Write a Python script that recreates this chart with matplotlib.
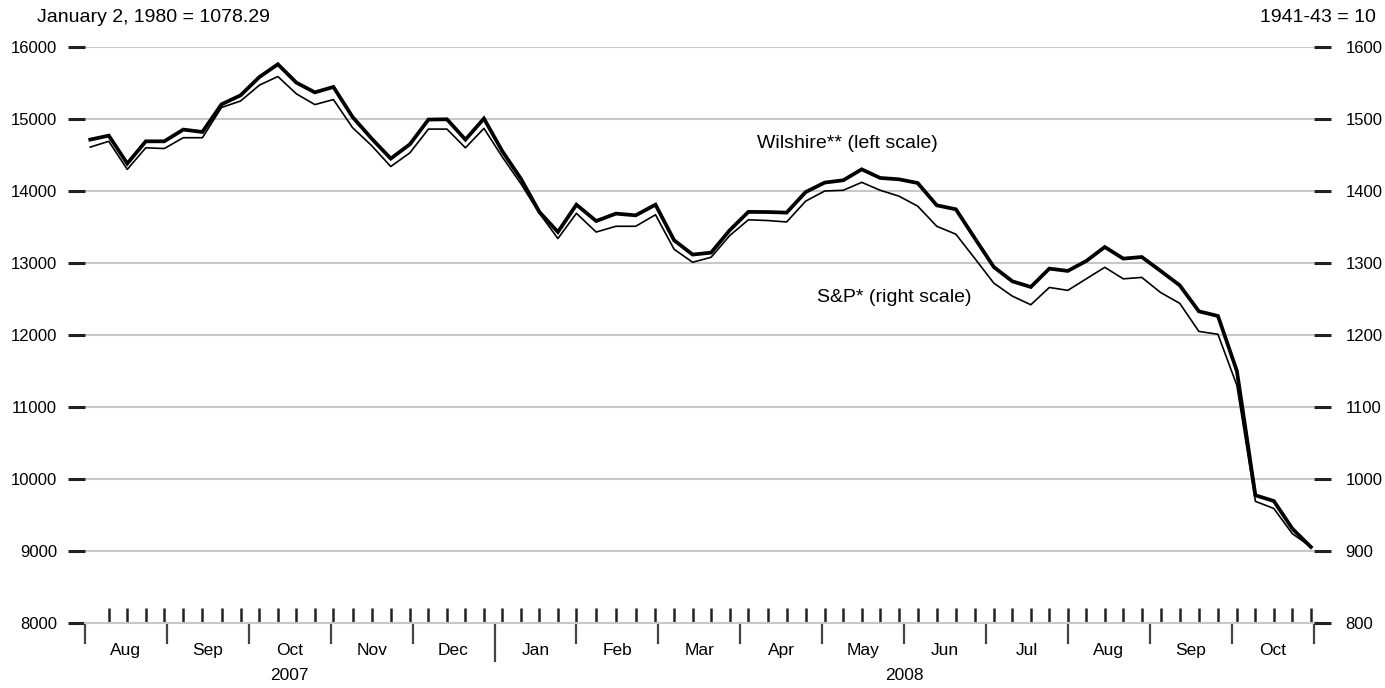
import pandas as pd
import matplotlib.pyplot as plt
import matplotlib.transforms as mtransforms

plt.rcParams['font.family'] = ['Liberation Sans', 'DejaVu Sans']

# weekly (Friday) readings
dates = pd.date_range('2007-08-03', '2008-10-31', freq='W-FRI')
wilshire = [14714, 14769, 14381, 14690, 14690,
            14853, 14820, 15204, 15329,
            15583, 15760, 15505, 15370,
            15445, 15028, 14728, 14450, 14649,
            14992, 14996, 14714, 15006,
            14550, 14170, 13708, 13431,
            13810, 13583, 13686, 13662, 13810,
            13315, 13117, 13144, 13454,
            13710, 13708, 13700, 13986,
            14117, 14149, 14301, 14181, 14163,
            14111, 13801, 13746, 13340,
            12944, 12746, 12667, 12922,
            12890, 13028, 13222, 13061, 13083,
            12890, 12690, 12329, 12264,
            11500, 9774, 9694, 9310, 9056]
sp500 = [1461, 1469, 1430, 1460, 1459,
         1474, 1474, 1516, 1525,
         1547, 1559, 1535, 1520,
         1527, 1488, 1463, 1434, 1453,
         1486, 1486, 1460, 1487,
         1447, 1410, 1369, 1334,
         1369, 1343, 1351, 1351, 1367,
         1319, 1301, 1308, 1338,
         1360, 1359, 1357, 1386,
         1400, 1401, 1412, 1401, 1393,
         1379, 1351, 1340, 1306,
         1272, 1254, 1242, 1266,
         1262, 1278, 1294, 1278, 1280,
         1259, 1244, 1205, 1201,
         1130, 969, 959, 924, 906]
months = ['Aug', 'Sep', 'Oct', 'Nov', 'Dec', 'Jan', 'Feb', 'Mar', 'Apr',
          'May', 'Jun', 'Jul', 'Aug', 'Sep', 'Oct']
years = ['2007', '2008']


# each month gets the same width, days spread inside it
def month_pos(d):
    m = (d.year - 2007) * 12 + d.month - 8
    return m + (d.day - 1) / d.days_in_month


x = [month_pos(d) for d in dates]

fig = plt.figure(figsize=(13.85, 6.88), dpi=100)
ax = fig.add_axes([85 / 1385, 65 / 688, 1228.5 / 1385, 576 / 688])
ax2 = ax.twinx()

ax.plot(x, wilshire, color='black', lw=2.7, solid_joinstyle='miter', zorder=3)
ax2.plot(x, sp500, color='black', lw=1.2, zorder=3)

ax.set_xlim(0, 15)
ax.set_ylim(8000, 16000)
ax2.set_ylim(800, 1600)
ax.set_yticks(range(9000, 16001, 1000))
ax.set_yticks([8000], minor=True)
ax2.set_yticks(range(800, 1601, 100))
ax.yaxis.grid(True, which='major', color='#c8c8c8', lw=1.5)
ax.set_axisbelow(True)

for a in (ax, ax2):
    for s in a.spines.values():
        s.set_visible(False)
ax.tick_params(axis='y', which='both', length=12, width=2.2, pad=8, labelsize=12,
               color='#222222')
ax.set_yticklabels(['8000'], minor=True)
ax2.tick_params(axis='y', length=12, width=2.2, pad=11, labelsize=12, color='#222222')

# x axis: gray base line, month boundaries down, weekly ticks up
ax.spines['bottom'].set_visible(True)
ax.spines['bottom'].set_color('#c8c8c8')
ax.spines['bottom'].set_linewidth(1.5)
ax.xaxis.remove_overlapping_locs = False
ax.set_xticks(range(0, 16))
ax.set_xticklabels([])
ax.set_xticks(x[1:], minor=True)
ax.tick_params(axis='x', which='major', length=0)
ax.tick_params(axis='x', which='minor', direction='in', length=11, width=1.8,
               color='#222222')
trans = mtransforms.blended_transform_factory(ax.transData, ax.transAxes)
for i in range(16):
    ylow = -0.066 if i == 5 else -0.034
    ax.plot([i, i], [0, ylow], color='#444444', lw=1.6, transform=trans,
            clip_on=False, zorder=2)

for i, m in enumerate(months):
    ax.text(i + 0.5, -0.048, m, transform=trans, ha='center', va='center', fontsize=12.5)
ax.text(2.5, -0.091, years[0], transform=trans, ha='center', va='center', fontsize=12.5)
ax.text(10, -0.091, years[1], transform=trans, ha='center', va='center', fontsize=12.5)

ax.text(8.2, 14660, 'Wilshire** (left scale)', ha='left', va='center', fontsize=14)
ax.text(8.94, 12524, 'S&P* (right scale)', ha='left', va='center', fontsize=14)

fig.text(37 / 1385, 1 - 18 / 688, 'January 2, 1980 = 1078.29', ha='left', va='center',
         fontsize=14)
fig.text(1376 / 1385, 1 - 18 / 688, '1941-43 = 10', ha='right', va='center', fontsize=14)

fig.savefig('out.png', dpi=100)
